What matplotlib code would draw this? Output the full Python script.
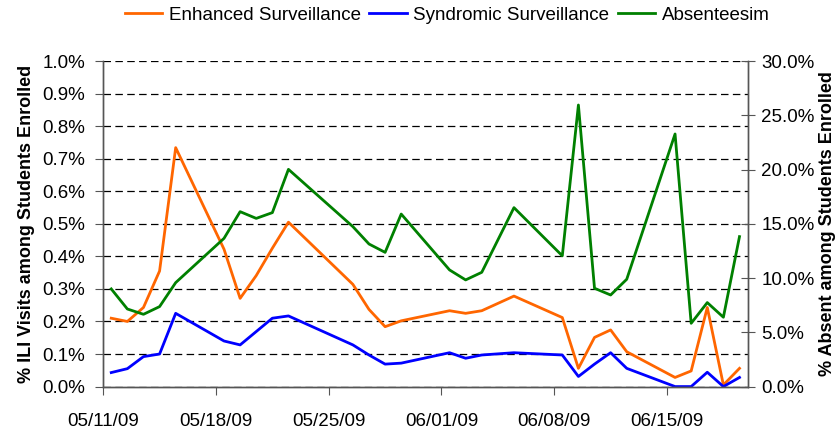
import datetime as dt
import matplotlib
matplotlib.use("Agg")
import matplotlib.pyplot as plt
import matplotlib.dates as mdates
from matplotlib.ticker import MultipleLocator, FuncFormatter

plt.rcParams['font.family'] = ['Liberation Sans', 'DejaVu Sans']

# school days with data (Memorial Day and 06/04 missing)
dates = [
    "2009-05-11", "2009-05-12", "2009-05-13", "2009-05-14", "2009-05-15",
    "2009-05-18", "2009-05-19", "2009-05-20", "2009-05-21", "2009-05-22",
    "2009-05-26", "2009-05-27", "2009-05-28", "2009-05-29",
    "2009-06-01", "2009-06-02", "2009-06-03", "2009-06-05",
    "2009-06-08", "2009-06-09", "2009-06-10", "2009-06-11", "2009-06-12",
    "2009-06-15", "2009-06-16", "2009-06-17", "2009-06-18", "2009-06-19",
]

# % ILI visits among students enrolled (left axis)
enhanced = [0.210, 0.200, 0.243, 0.355, 0.734, 0.422, 0.271, 0.341, 0.425, 0.505,
            0.314, 0.237, 0.184, 0.202, 0.233, 0.225, 0.233, 0.278,
            0.212, 0.056, 0.151, 0.174, 0.107, 0.028, 0.048, 0.243, 0.005, 0.056]
syndromic = [0.043, 0.055, 0.092, 0.100, 0.225, 0.140, 0.128, 0.169, 0.210, 0.217,
             0.128, 0.097, 0.069, 0.072, 0.104, 0.087, 0.097, 0.104,
             0.097, 0.031, 0.069, 0.104, 0.056, 0.0, 0.0, 0.044, 0.0, 0.028]
# % absent among students enrolled (right axis)
absent = [9.0, 7.15, 6.66, 7.37, 9.58, 13.66, 16.12, 15.5, 16.03, 20.02,
          14.74, 13.14, 12.37, 15.9, 10.75, 9.83, 10.53, 16.49,
          12.05, 25.95, 9.06, 8.44, 9.89, 23.28, 5.83, 7.74, 6.39, 13.82]

labels = ["Enhanced Surveillance", "Syndromic Surveillance", "Absenteesim"]
colors = ["#FF6600", "#0000FF", "#008000"]

# Excel-style date axis: values plotted in the middle of each day
x = [dt.datetime.strptime(d, "%Y-%m-%d") + dt.timedelta(hours=12) for d in dates]

fig = plt.figure(figsize=(8.39, 4.30), dpi=100)
ax = fig.add_axes([0.123, 0.101, 0.768, 0.757])
ax2 = ax.twinx()

l1, = ax.plot(x, enhanced, color=colors[0], lw=2.0, label=labels[0])
l2, = ax.plot(x, syndromic, color=colors[1], lw=2.0, label=labels[1])
l3, = ax2.plot(x, absent, color=colors[2], lw=2.0, label=labels[2])

ax.set_xlim(dt.datetime(2009, 5, 11), dt.datetime(2009, 6, 20))
ax.set_ylim(0, 1.0)
ax2.set_ylim(0, 30)

ax.xaxis.set_major_locator(mdates.WeekdayLocator(byweekday=mdates.MO, interval=1))
ax.xaxis.set_major_formatter(mdates.DateFormatter("%m/%d/%y"))

ax.yaxis.set_major_locator(MultipleLocator(0.1))
ax.yaxis.set_major_formatter(FuncFormatter(lambda v, p: f"{v:.1f}%"))
ax2.yaxis.set_major_locator(MultipleLocator(5))
ax2.yaxis.set_major_formatter(FuncFormatter(lambda v, p: f"{v:.1f}%"))

ax.grid(axis='y', color='black', lw=0.9, linestyle=(0, (6, 3.5)))
ax.set_axisbelow(True)

for a in (ax, ax2):
    a.spines['top'].set_visible(False)
    for s in a.spines.values():
        s.set_color('#555555')
        s.set_linewidth(1.0)

ax.tick_params(axis='x', labelsize=13.5, length=6, pad=13, color='#555555')
ax.tick_params(axis='y', labelsize=13.5, length=6, direction='out', pad=7, color='#555555')
ax2.tick_params(axis='y', labelsize=13.5, length=10, direction='inout', pad=5, color='#555555')

ax.set_ylabel("% ILI Visits among Students Enrolled", fontsize=13, fontweight='bold', labelpad=5)
ax2.set_ylabel("% Absent among Students Enrolled", fontsize=13, fontweight='bold', labelpad=3)

fig.legend(handles=[l1, l2, l3], labels=labels, loc='center', ncol=3,
           bbox_to_anchor=(0.533, 0.965), frameon=False, fontsize=13.5,
           handlelength=2.0, handletextpad=0.35, columnspacing=0.45)

fig.savefig("out.png", dpi=100)
